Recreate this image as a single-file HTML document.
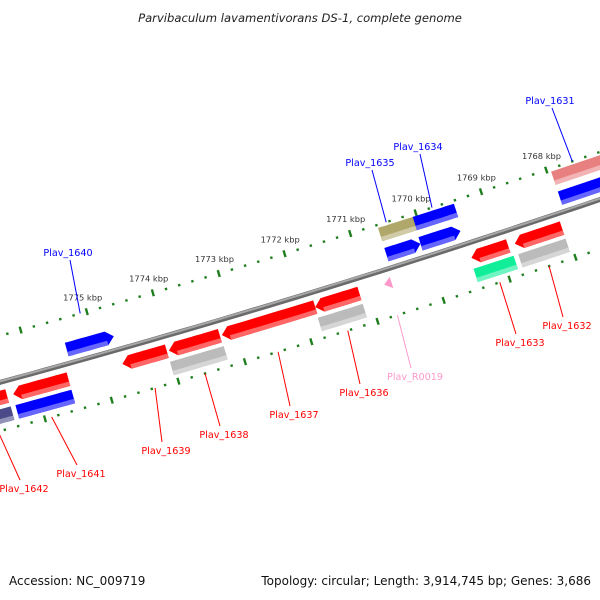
<!DOCTYPE html>
<html><head><meta charset="utf-8"><style>
html,body{margin:0;padding:0;background:#fff;width:600px;height:600px;overflow:hidden}
svg{display:block;font-family:"DejaVu Sans","Liberation Sans",sans-serif}
</style></head><body>
<svg id="map" width="600" height="600" viewBox="0 0 600 600">
<text x="300" y="22" text-anchor="middle" font-size="11.6" font-style="italic" fill="#222">Parvibaculum lavamentivorans DS-1, complete genome</text>
<g id="rulers"></g>
<g id="backbone"></g>
<g id="features"></g>
<g id="labels"></g>
<text x="9" y="585" font-size="12" fill="#111">Accession: NC_009719</text>
<text x="591" y="585" text-anchor="end" font-size="12" fill="#111">Topology: circular; Length: 3,914,745 bp; Genes: 3,686</text>
</svg>
<script>
// ---- data (kbp) ----
const tickKbp = [1765,1766,1767,1768,1769,1770,1771,1772,1773,1774,1775,1776,1777,1778];
const tickLabels = ["1768 kbp","1769 kbp","1770 kbp","1771 kbp","1772 kbp","1773 kbp","1774 kbp","1775 kbp"];
const tickLabelKbp = [1768,1769,1770,1771,1772,1773,1774,1775];
const featStart = [1775.43,1770.59,1770.07,1767.94, 1770.59,1770.06,1767.94, 1777.05,1776.35,1774.71,1774.01,1773.21,1771.80,1769.43,1768.77,1770.75, 1777.12,1776.36,1774.04,1771.81,1769.45,1768.77];
const featEnd   = [1774.72,1770.07,1769.46,1766.80, 1770.04,1769.43,1766.80, 1776.44,1775.52,1774.04,1773.24,1771.80,1771.13,1768.87,1768.05,1770.64, 1776.43,1775.52,1773.23,1771.13,1768.84,1768.05];
const featLane  = [-14,-14,-14,-14, -35,-35,-35, 15,15,15,15,15,15,15,15,14, 33,33,33,33,33,33];
const featArrow = [1,1,1,0, 0,0,0, -1,-1,-1,-1,-1,-1,-1,-1,-1, 0,0,0,0,0,0];
const featColor = ["#0000ff","#0000ff","#0000ff","#0000ff","#b0a86a","#0000ff","#e88080","#ff0000","#ff0000","#ff0000","#ff0000","#ff0000","#ff0000","#ff0000","#ff0000","#ff99cc","#4a4a88","#0000ff","#bbbbbb","#bbbbbb","#11ee99","#bbbbbb"];
const featName = ["plav-1640","plav-1635","plav-1634","plav-1631","plav-1635-cog","plav-1634-cog","plav-1631-cog","plav-1642","plav-1641","plav-1639","plav-1638","plav-1637","plav-1636","plav-1633","plav-1632","plav-r0019","plav-1642-cog","plav-1641-cog","plav-1638-cog","plav-1636-cog","plav-1633-cog","plav-1632-cog"];
const labelText = ["Plav_1631","Plav_1634","Plav_1635","Plav_1640","Plav_1632","Plav_1633","Plav_R0019","Plav_1636","Plav_1637","Plav_1638","Plav_1639","Plav_1641","Plav_1642"];
const labelX = [550,418,370,68,567,520,415,364,294,224,166,81,24];
const labelY = [104,150,166,256,329,346,380,396,418,438,454,477,492];
const labelKbp = [1767.6,1769.75,1770.45,1775.1,1768.4,1769.15,1770.7,1771.45,1772.5,1773.6,1774.35,1775.9,1776.7];
const labelOff = [-45,-45,-45,-45,47,47,47,47,47,47,47,47,47];
const labelColor = ["#0000ff","#0000ff","#0000ff","#0000ff","#ff0000","#ff0000","#ff99cc","#ff0000","#ff0000","#ff0000","#ff0000","#ff0000","#ff0000"];

// ---- geometry ----
const R = 10000, A0 = 1.296, PX = 99, PY = 355, PXKB = 69;
const CX = PX - R*Math.cos(A0), CY = PY - R*Math.sin(A0);
function pt(k, off){ const a = A0 - (1775-k)*PXKB/R; const r = R+off; return [CX+r*Math.cos(a), CY+r*Math.sin(a)]; }
const NS="http://www.w3.org/2000/svg";
function mk(tag, attrs, parent){ const e=document.createElementNS(NS,tag); for(const k in attrs) e.setAttribute(k,attrs[k]); parent.appendChild(e); return e; }
function arcPts(k1,k2,off,n){ const a=[]; for(let i=0;i<=n;i++){a.push(pt(k1+(k2-k1)*i/n,off));} return a; }
function ps(a){ return a.map(p=>p[0].toFixed(1)+","+p[1].toFixed(1)).join(" "); }

// rulers
const rg=document.getElementById('rulers');
[-45,47].forEach(off=>{
  for(let i=0;i<tickKbp.length-1;i++){
    for(let j=0;j<5;j++){
      const k=tickKbp[i]+j*0.2; const major=(j===0);
      const a=pt(k,off-(major?3.5:1.2)), b=pt(k,off+(major?3.5:1.2));
      const t=mk('line',{x1:a[0],y1:a[1],x2:b[0],y2:b[1],stroke:'#1f7f1f','stroke-width':2.4},rg);
      
      
    }
  }
});
tickLabelKbp.forEach((k,i)=>{
  const p=pt(k,-60);
  const t=mk('text',{x:p[0].toFixed(1),y:(p[1]+3).toFixed(1),'text-anchor':'middle','font-size':'8.3',fill:'#333'},rg);
  t.textContent=tickLabels[i];
  
  
});

// backbone
const bg=document.getElementById('backbone');
const b1=mk('polyline',{points:ps(arcPts(1778.5,1765,0,60)),fill:'none',stroke:'#6a6a6a','stroke-width':5},bg);


const b2=mk('polyline',{points:ps(arcPts(1778.5,1765,-1,60)),fill:'none',stroke:'#a8a8a8','stroke-width':2},bg);



// features
function shade(hex,f){ const n=parseInt(hex.slice(1),16); let r=n>>16,g=(n>>8)&255,b=n&255; r=Math.round(r+(255-r)*f); g=Math.round(g+(255-g)*f); b=Math.round(b+(255-b)*f); return `rgb(${r},${g},${b})`; }
const fg=document.getElementById('features');
featStart.forEach((s,i)=>{
  const e=featEnd[i], off=featLane[i], dir=featArrow[i];
  const h = featName[i]==='plav-r0019'?6:7;
  const g=mk('g',{},fg);
  
  
  const ah=0.11; let pts;
  if(dir===0){
    pts=arcPts(s,e,off-h,10).concat(arcPts(e,s,off+h,10));
  } else if(dir>0){
    const eb=e+ah; const body=(s-eb)>0? eb: s;
    pts=arcPts(s,body,off-h,10).concat([pt(e,off)]).concat(arcPts(body,s,off+h,10));
  } else {
    const sb=s-ah; const body=(sb-e)>0? sb: e;
    pts=[pt(s,off)].concat(arcPts(body,e,off-h,10)).concat(arcPts(e,body,off+h,10));
  }
  mk('polygon',{points:ps(pts),fill:featColor[i]},g);
  const sb=dir<0?s-ah:s, eb=dir>0?e+ah:e;
  if(sb>eb){
    mk('polygon',{points:ps(arcPts(sb,eb,off+h*0.35,8).concat(arcPts(eb,sb,off+h,8))),fill:shade(featColor[i],0.4)},g);
  }
});

// labels
const lg=document.getElementById('labels');
labelText.forEach((t,i)=>{
  const p=pt(labelKbp[i],labelOff[i]);
  const above=labelOff[i]<0;
  const ly = above? labelY[i]+4 : labelY[i]-12;
  const l=mk('line',{x1:p[0].toFixed(1),y1:p[1].toFixed(1),x2:labelX[i]+(above?2:-4),y2:ly,stroke:labelColor[i],'stroke-width':1},lg);
  
  
  const tx=mk('text',{x:labelX[i],y:labelY[i],'text-anchor':'middle','font-size':'9.6',fill:labelColor[i]},lg);
  tx.textContent=t;
  
  
});
</script>
</body></html>
